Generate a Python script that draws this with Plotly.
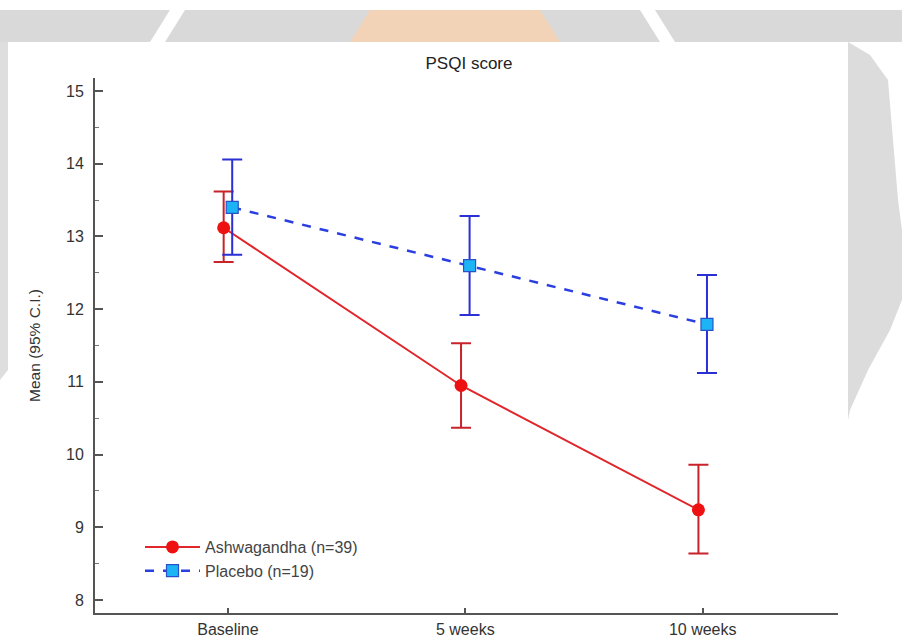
import plotly.graph_objects as go

# ---- data ----
timepoints = ["Baseline", "5 weeks", "10 weeks"]
ashwa_mean = [13.12, 10.95, 9.24]
ashwa_upper = [13.62, 11.53, 9.86]
ashwa_lower = [12.65, 10.37, 8.64]
placebo_mean = [13.40, 12.60, 11.79]
placebo_upper = [14.06, 13.28, 12.47]
placebo_lower = [12.75, 11.92, 11.12]
y_ticks = [8, 9, 10, 11, 12, 13, 14, 15]

W, H = 902, 641
L, R, T, B = 95, 838, 78, 613

def px(x, y):
    return (x - L) / (R - L), (B - y) / (B - T)

def path(points):
    s = ""
    for i, (x, y) in enumerate(points):
        a, b = px(x, y)
        s += ("M" if i == 0 else "L") + f"{a:.4f},{b:.4f} "
    return s + "Z"

idx = list(range(len(timepoints)))
off = 0.018
xa = [i - off for i in idx]
xp = [i + off for i in idx]

fig = go.Figure()
fig.add_trace(go.Scatter(
    x=xa, y=ashwa_mean, mode="lines+markers", name="Ashwagandha (n=39)",
    line=dict(color="#e0262b", width=2),
    marker=dict(symbol="circle", size=13, color="#ee1111", line=dict(width=0)),
    error_y=dict(type="data", symmetric=False,
                 array=[u - m for u, m in zip(ashwa_upper, ashwa_mean)],
                 arrayminus=[m - l for m, l in zip(ashwa_mean, ashwa_lower)],
                 color="#c8232b", thickness=2, width=10),
))
fig.add_trace(go.Scatter(
    x=xp, y=placebo_mean, mode="lines+markers", name="Placebo (n=19)",
    line=dict(color="#2b3ee0", width=2.5, dash="dash"),
    marker=dict(symbol="square", size=12, color="#1db4f5", line=dict(width=1.2, color="#2a52c8")),
    error_y=dict(type="data", symmetric=False,
                 array=[u - m for u, m in zip(placebo_upper, placebo_mean)],
                 arrayminus=[m - l for m, l in zip(placebo_mean, placebo_lower)],
                 color="#2b2fd6", thickness=2, width=10),
))

shapes = [
    # top watermark band
    dict(type="path", path=path([(0, 10), (902, 10), (902, 42), (0, 42)]),
         xref="paper", yref="paper", fillcolor="#d9d9d9", line=dict(width=0), layer="below"),
    dict(type="path", path=path([(370, 10), (540, 10), (560, 42), (350, 42)]),
         xref="paper", yref="paper", fillcolor="#f2d3b8", line=dict(width=0), layer="below"),
    dict(type="path", path=path([(170, 10), (185, 10), (165, 42), (150, 42)]),
         xref="paper", yref="paper", fillcolor="#ffffff", line=dict(width=0), layer="below"),
    dict(type="path", path=path([(640, 10), (655, 10), (675, 42), (660, 42)]),
         xref="paper", yref="paper", fillcolor="#ffffff", line=dict(width=0), layer="below"),
    # right watermark
    dict(type="path", path=path([(848, 42), (870, 55), (888, 80), (898, 200), (902, 230),
                                 (902, 300), (890, 330), (868, 370), (850, 410), (848, 420)]),
         xref="paper", yref="paper", fillcolor="#dcdcdc", line=dict(width=0), layer="below"),
    # left watermark
    dict(type="path", path=path([(0, 42), (8, 42), (8, 370), (0, 380)]),
         xref="paper", yref="paper", fillcolor="#dedede", line=dict(width=0), layer="below"),
]

fig.update_layout(
    width=W, height=H,
    margin=dict(l=L, r=W - R, t=T, b=H - B, autoexpand=False),
    paper_bgcolor="white", plot_bgcolor="white",
    font=dict(family="Arial, Liberation Sans, sans-serif", size=16, color="#333"),
    title=dict(text="PSQI score", x=469 / W, xanchor="center",
               y=1 - 63 / H, yanchor="middle", font=dict(size=17, color="#222")),
    showlegend=True,
    legend=dict(x=px(140, 0)[0], y=px(0, 530)[1], xanchor="left", yanchor="top",
                bgcolor="rgba(0,0,0,0)", font=dict(size=16, color="#444"),
                itemwidth=55, tracegroupgap=0),
    shapes=shapes,
    xaxis=dict(range=[-0.56, 2.57], tickvals=idx, ticktext=timepoints,
               showline=True, linecolor="#555", linewidth=2, ticks="inside",
               ticklen=5, tickcolor="#555", tickwidth=1.5, showgrid=False, zeroline=False,
               automargin=False,
               ticklabelstandoff=1, tickfont=dict(size=16, color="#333")),
    yaxis=dict(range=[7.82, 15.18], tickvals=y_ticks, showline=True, linecolor="#555",
               linewidth=2, ticks="inside", ticklen=8, tickcolor="#555", tickwidth=2,
               minor=dict(dtick=0.5, ticks="inside", ticklen=4, tickcolor="#777", tickwidth=1),
               showgrid=False, zeroline=False, ticklabelstandoff=6, automargin=False,
               tickfont=dict(size=16, color="#333"),
               title=dict(text="Mean (95% C.I.)", standoff=22, font=dict(size=15.5, color="#333"))),
)

fig.write_html("out.html", config={"displayModeBar": False},
               post_script="document.body.style.margin='0px';")
